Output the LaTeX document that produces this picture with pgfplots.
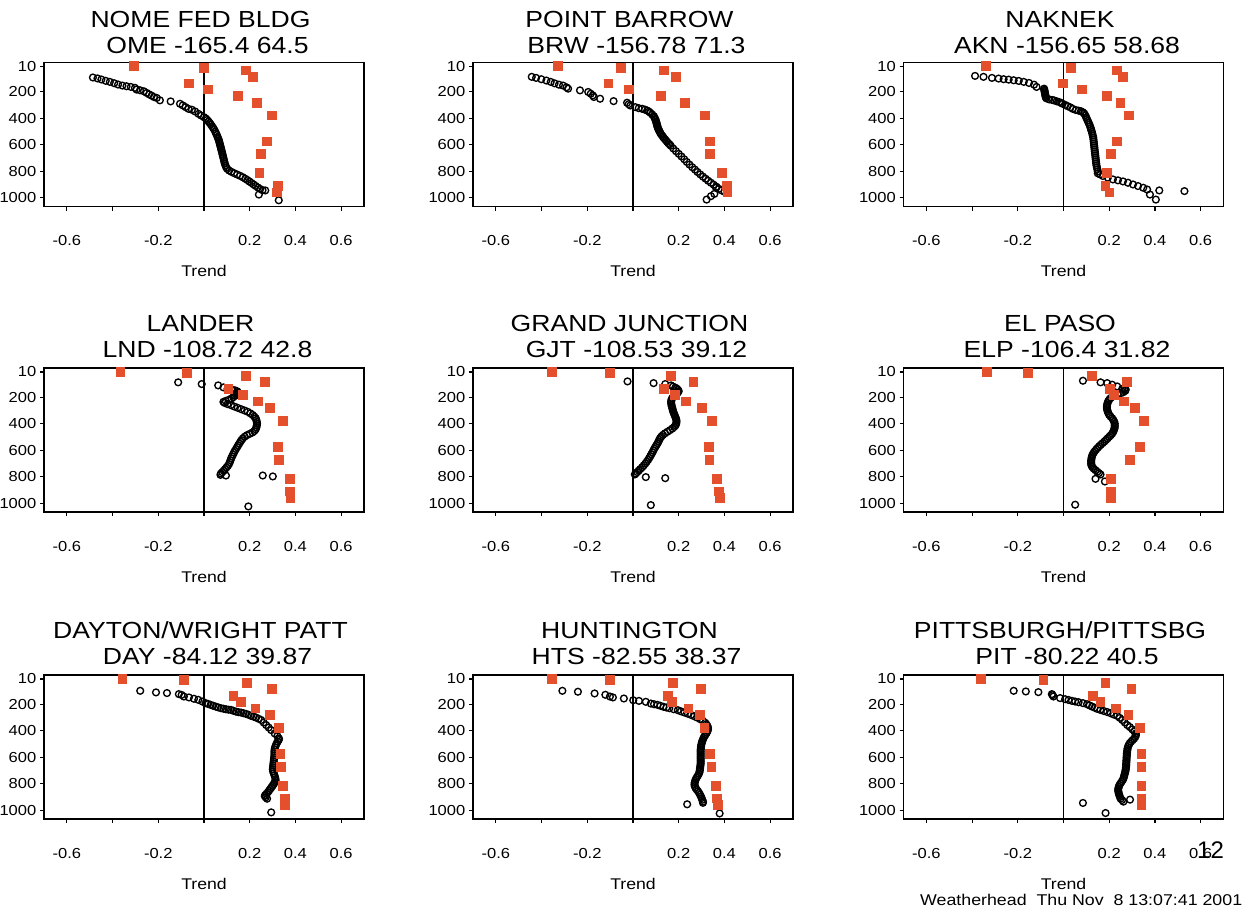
\documentclass[border=0pt]{standalone}
\usepackage{fontspec}
\setmainfont{Liberation Sans}[FakeStretch=1.14]
\newfontfamily\plainsans{Liberation Sans}
\usepackage{pgfplots}
\usepackage{pgfplotstable}
\pgfplotsset{compat=1.18}
\definecolor{sq}{HTML}{E4502C}

\newcommand\ttlfont{\fontsize{23.3}{26}\selectfont}
\newcommand\tckfont{\fontsize{14.5}{16}\selectfont}

\pgfplotsset{
  stn/.style={
    anchor=north west, scale only axis, width=320pt, height=144pt,
    xmin=-0.7, xmax=0.7, ymin=-20, ymax=1065, y dir=reverse,
    xtick={-0.6,-0.4,-0.2,0,0.2,0.4,0.6},
    xticklabels={-0.6,,-0.2,,0.2,0.4,0.6},
    ytick={10,200,400,600,800,1000},
    yticklabels={10,200,400,600,800,1000},
    tick pos=left, tick align=outside, major tick length=4pt,
    axis line style={line width=1.4pt},
    tick style={black, line width=1.1pt},
    xticklabel style={font=\tckfont, anchor=base, yshift=-35pt},
    yticklabel style={font=\tckfont, inner xsep=0pt, xshift=-3.5pt},
    xlabel={Trend},
    xlabel style={font=\fontsize{15.5}{17}\selectfont, at={(axis description cs:0.5,0)}, anchor=base, yshift=-70pt},
  },
  cir/.style={only marks, mark=o, mark size=3.4pt, black, mark options={line width=1.35pt}},
  sqr/.style={only marks, mark=square*, mark size=4.4pt, sq, mark options={draw=sq, fill=sq, line width=0pt}},
  zero/.style={black, line width=1.4pt},
}

% title lines: axis name, line 1, line 2, offset of line 2 above the box
\newcommand\ttl[4]{%
  \node[anchor=base, font=\ttlfont, inner sep=0pt] at ([xshift=-3.5pt,yshift=#4+26pt]#1.north) {#2};
  \node[anchor=base, font=\ttlfont, inner sep=0pt] at ([xshift=3.5pt,yshift=#4]#1.north) {#3};}

% orange squares, same levels in every station
\pgfplotstableread{
p    s1     s2     s3     s4     s5     s6     s7     s8     s9
8   -0.305 -0.328 -0.338 -0.365 -0.356 -0.335 -0.357 -0.356 -0.360
20   0.000 -0.051  0.032 -0.074 -0.101 -0.154 -0.087 -0.101 -0.088
40   0.185  0.135  0.234  0.184  0.166  0.125  0.188  0.176  0.184
88   0.216  0.187  0.260  0.268  0.265  0.276  0.299  0.296  0.297
138 -0.066 -0.107 -0.004  0.107  0.137  0.203  0.129  0.154  0.129
184  0.018 -0.019  0.081  0.172  0.185  0.221  0.162  0.171  0.162
233  0.150  0.121  0.190  0.235  0.232  0.266  0.225  0.243  0.228
283  0.231  0.226  0.249  0.290  0.301  0.313  0.290  0.294  0.284
380  0.296  0.316  0.285  0.346  0.346  0.353  0.328  0.313  0.334
575  0.275  0.337  0.235  0.324  0.332  0.335  0.335  0.338  0.341
671  0.250  0.337  0.209  0.327  0.335  0.291  0.338  0.343  0.341
814  0.243  0.390  0.191  0.375  0.368  0.206  0.346  0.362  0.341
910  0.325  0.410  0.184  0.375  0.376  0.206  0.354  0.369  0.341
960  0.318  0.413  0.201  0.378  0.379  0.206  0.356  0.372  0.341
}\sqtab

\begin{document}
\begin{tikzpicture}
\path[use as bounding box] (0pt,0pt) rectangle (1255pt,-909pt);

% ---------- row 1
\begin{axis}[stn, name=p1, at={(44pt,-62.5pt)}]
\addplot[zero] coordinates {(0,-20) (0,1065)};
\addplot[cir] coordinates {
(-0.486,93) (-0.466,100) (-0.449,108) (-0.430,118) (-0.412,126) (-0.393,136) (-0.376,146) (-0.357,154) (-0.339,159) (-0.320,164) (-0.302,171) (-0.295,184) (-0.280,189) (-0.263,197) (-0.251,209) (-0.240,220) (-0.229,230) (-0.219,240) (-0.207,247) (-0.193,265) (-0.146,273) (-0.105,291) (-0.093,303) (-0.081,316) (-0.068,329) (-0.053,336) (-0.039,349) (-0.024,367) (-0.012,380) (0.000,392) (0.008,402) (0.014,412) (0.020,425) (0.025,436) (0.030,447) (0.035,460) (0.040,472) (0.044,484) (0.049,500) (0.052,512) (0.056,525) (0.059,540) (0.062,552) (0.065,565) (0.067,578) (0.069,592) (0.071,605) (0.073,618) (0.075,632) (0.077,645) (0.079,658) (0.081,672) (0.083,686) (0.085,700) (0.087,714) (0.089,728) (0.091,742) (0.094,756) (0.097,770) (0.102,782) (0.110,794) (0.120,804) (0.132,814) (0.145,824) (0.158,834) (0.170,845) (0.181,856) (0.190,866) (0.199,877) (0.208,888) (0.217,899) (0.226,910) (0.236,922) (0.246,933) (0.256,942) (0.268,944) (0.240,975) (0.327,1018)};
\addplot[sqr] table[x=s1,y=p] {\sqtab};
\end{axis}
\ttl{p1}{NOME FED BLDG}{OME -165.4 64.5}{8.7pt}

\begin{axis}[stn, name=p2, at={(473pt,-62.5pt)}]
\addplot[zero] coordinates {(0,-20) (0,1065)};
\addplot[cir] coordinates {
(-0.443,88) (-0.424,96) (-0.401,106) (-0.379,116) (-0.360,126) (-0.343,137) (-0.324,147) (-0.306,154) (-0.291,167) (-0.284,177) (-0.232,190) (-0.196,202) (-0.185,215) (-0.176,228) (-0.171,240) (-0.144,253) (-0.085,271) (-0.026,283) (-0.019,294) (-0.012,304) (0.010,316) (0.025,324) (0.040,329) (0.052,335) (0.062,342) (0.070,350) (0.076,359) (0.084,372) (0.091,385) (0.094,395) (0.097,405) (0.099,415) (0.101,425) (0.103,435) (0.104,445) (0.106,455) (0.107,466) (0.110,476) (0.112,486) (0.115,496) (0.118,506) (0.121,516) (0.125,526) (0.130,537) (0.134,547) (0.139,557) (0.144,567) (0.149,577) (0.154,587) (0.160,597) (0.165,607) (0.176,628) (0.188,648) (0.200,668) (0.212,688) (0.224,709) (0.235,729) (0.247,749) (0.259,769) (0.271,787) (0.282,805) (0.294,823) (0.306,840) (0.318,856) (0.329,871) (0.341,886) (0.353,901) (0.365,916) (0.376,932) (0.388,944) (0.400,954) (0.363,924) (0.356,970) (0.341,987) (0.322,1013)};
\addplot[sqr] table[x=s2,y=p] {\sqtab};
\end{axis}
\ttl{p2}{POINT BARROW}{BRW -156.78 71.3}{8.7pt}

\begin{axis}[stn, name=p3, at={(903.5pt,-62.5pt)}]
\addplot[zero] coordinates {(0,-20) (0,1065)};
\addplot[cir] coordinates {
(-0.387,81) (-0.350,88) (-0.313,96) (-0.284,101) (-0.262,106) (-0.240,109) (-0.218,114) (-0.196,119) (-0.174,126) (-0.151,134) (-0.129,147) (-0.118,164) (-0.085,177) (-0.084,186) (-0.083,195) (-0.082,204) (-0.081,213) (-0.080,222) (-0.079,231) (-0.078,240) (-0.076,249) (-0.063,258) (-0.050,262) (-0.041,266) (-0.030,272) (-0.019,278) (-0.010,285) (-0.004,291) (0.008,300) (0.018,309) (0.030,318) (0.040,329) (0.054,338) (0.066,343) (0.076,347) (0.085,355) (0.091,365) (0.095,378) (0.099,392) (0.102,405) (0.106,418) (0.109,432) (0.113,446) (0.116,460) (0.119,474) (0.121,488) (0.124,502) (0.126,516) (0.128,530) (0.130,545) (0.131,560) (0.132,575) (0.133,590) (0.134,605) (0.135,620) (0.136,635) (0.137,650) (0.138,665) (0.139,680) (0.140,695) (0.141,710) (0.142,725) (0.143,740) (0.144,755) (0.146,770) (0.148,785) (0.150,800) (0.150,815) (0.160,823) (0.172,835) (0.194,848) (0.216,861) (0.238,868) (0.260,876) (0.282,886) (0.304,899) (0.326,911) (0.349,924) (0.366,937) (0.378,975) (0.404,1013) (0.419,944) (0.529,949)};
\addplot[sqr] table[x=s3,y=p] {\sqtab};
\end{axis}
\ttl{p3}{NAKNEK}{AKN -156.65 58.68}{8.7pt}

% ---------- row 2
\begin{axis}[stn, name=p4, at={(44pt,-368pt)}]
\addplot[zero] coordinates {(0,-20) (0,1065)};
\addplot[cir] coordinates {
(-0.113,88) (-0.010,101) (0.062,111) (0.085,126) (0.103,137) (0.120,142) (0.135,148) (0.145,155) (0.148,163) (0.145,172) (0.140,180) (0.135,190) (0.128,200) (0.120,210) (0.108,220) (0.095,228) (0.085,235) (0.090,243) (0.103,252) (0.118,260) (0.132,270) (0.147,280) (0.162,290) (0.177,300) (0.191,310) (0.203,322) (0.213,334) (0.220,346) (0.226,358) (0.229,372) (0.231,386) (0.232,400) (0.231,414) (0.229,428) (0.226,442) (0.220,455) (0.212,466) (0.200,476) (0.188,486) (0.178,497) (0.170,510) (0.164,523) (0.159,536) (0.154,550) (0.149,563) (0.145,576) (0.140,590) (0.135,604) (0.131,618) (0.127,632) (0.123,646) (0.119,660) (0.116,675) (0.113,690) (0.109,705) (0.104,718) (0.098,730) (0.092,742) (0.086,754) (0.080,765) (0.074,775) (0.072,785) (0.096,790) (0.257,790) (0.301,797) (0.194,1023)};
\addplot[sqr] table[x=s4,y=p] {\sqtab};
\end{axis}
\ttl{p4}{LANDER}{LND -108.72 42.8}{10.5pt}

\begin{axis}[stn, name=p5, at={(473pt,-368pt)}]
\addplot[zero] coordinates {(0,-20) (0,1065)};
\addplot[cir] coordinates {
(-0.024,81) (0.090,94) (0.141,101) (0.166,111) (0.175,120) (0.185,128) (0.192,136) (0.197,145) (0.200,155) (0.196,165) (0.190,175) (0.183,185) (0.176,196) (0.171,208) (0.168,220) (0.167,232) (0.167,245) (0.168,258) (0.170,270) (0.172,283) (0.174,296) (0.176,309) (0.179,322) (0.182,335) (0.185,348) (0.188,361) (0.190,374) (0.190,387) (0.189,400) (0.186,412) (0.180,424) (0.172,436) (0.162,448) (0.151,460) (0.140,472) (0.131,484) (0.124,496) (0.119,508) (0.115,520) (0.112,533) (0.108,546) (0.103,560) (0.098,574) (0.093,588) (0.089,602) (0.085,616) (0.080,630) (0.076,644) (0.071,658) (0.066,672) (0.060,686) (0.054,700) (0.047,714) (0.040,728) (0.032,741) (0.025,753) (0.019,764) (0.012,774) (0.008,782) (0.056,802) (0.141,810) (0.078,1013)};
\addplot[sqr] table[x=s5,y=p] {\sqtab};
\end{axis}
\ttl{p5}{GRAND JUNCTION}{GJT -108.53 39.12}{10.5pt}

\begin{axis}[stn, name=p6, at={(903.5pt,-368pt)}]
\addplot[zero] coordinates {(0,-20) (0,1065)};
\addplot[cir] coordinates {
(0.085,76) (0.162,88) (0.191,94) (0.213,106) (0.235,119) (0.257,137) (0.268,132) (0.272,142) (0.270,152) (0.262,162) (0.250,170) (0.238,178) (0.226,186) (0.215,195) (0.206,206) (0.200,218) (0.196,230) (0.193,242) (0.191,255) (0.190,268) (0.190,281) (0.191,294) (0.193,307) (0.196,320) (0.200,333) (0.206,346) (0.213,359) (0.218,372) (0.222,385) (0.224,398) (0.224,411) (0.224,424) (0.223,437) (0.220,450) (0.217,462) (0.213,474) (0.207,486) (0.200,498) (0.193,510) (0.186,522) (0.179,534) (0.171,546) (0.163,558) (0.156,570) (0.149,582) (0.143,594) (0.137,606) (0.132,618) (0.128,630) (0.125,642) (0.123,654) (0.122,666) (0.121,678) (0.121,690) (0.121,702) (0.122,714) (0.126,726) (0.132,738) (0.140,750) (0.148,762) (0.155,772) (0.162,782) (0.140,815) (0.181,835) (0.051,1010)};
\addplot[sqr] table[x=s6,y=p] {\sqtab};
\end{axis}
\ttl{p6}{EL PASO}{ELP -106.4 31.82}{10.5pt}

% ---------- row 3
\begin{axis}[stn, name=p7, at={(44pt,-675pt)}]
\addplot[zero] coordinates {(0,-20) (0,1065)};
\addplot[cir] coordinates {
(-0.279,99) (-0.210,111) (-0.162,116) (-0.110,124) (-0.098,130) (-0.088,142) (-0.066,149) (-0.044,159) (-0.025,167) (-0.007,180) (0.007,192) (0.018,198) (0.029,205) (0.040,212) (0.051,218) (0.062,224) (0.074,230) (0.085,234) (0.096,238) (0.107,241) (0.118,243) (0.129,250) (0.140,256) (0.151,260) (0.162,263) (0.173,268) (0.184,273) (0.195,280) (0.206,288) (0.217,294) (0.228,301) (0.239,310) (0.250,319) (0.261,338) (0.272,357) (0.283,376) (0.294,395) (0.309,420) (0.321,440) (0.328,458) (0.327,470) (0.322,482) (0.318,496) (0.314,510) (0.311,525) (0.309,540) (0.308,555) (0.308,570) (0.308,585) (0.307,600) (0.306,615) (0.305,630) (0.304,645) (0.303,660) (0.302,675) (0.301,690) (0.302,705) (0.305,720) (0.308,735) (0.311,750) (0.313,765) (0.313,778) (0.309,790) (0.305,802) (0.300,814) (0.295,826) (0.290,838) (0.285,850) (0.280,862) (0.274,874) (0.268,884) (0.266,892) (0.270,902) (0.276,912) (0.294,1015)};
\addplot[sqr] table[x=s7,y=p] {\sqtab};
\end{axis}
\ttl{p7}{DAYTON/WRIGHT PATT}{DAY -84.12 39.87}{10.5pt}

\begin{axis}[stn, name=p8, at={(473pt,-675pt)}]
\addplot[zero] coordinates {(0,-20) (0,1065)};
\addplot[cir] coordinates {
(-0.309,99) (-0.241,106) (-0.168,119) (-0.121,129) (-0.101,142) (-0.088,149) (-0.040,157) (0.001,170) (0.026,175) (0.056,182) (0.078,195) (0.092,200) (0.107,205) (0.120,212) (0.134,220) (0.146,225) (0.159,230) (0.178,238) (0.196,245) (0.210,254) (0.225,263) (0.240,272) (0.254,281) (0.268,291) (0.281,301) (0.294,313) (0.306,326) (0.316,340) (0.321,352) (0.326,365) (0.328,378) (0.328,390) (0.326,403) (0.322,416) (0.318,428) (0.313,440) (0.309,453) (0.306,466) (0.303,478) (0.301,491) (0.299,504) (0.298,517) (0.297,530) (0.296,543) (0.296,556) (0.296,569) (0.296,582) (0.296,595) (0.296,608) (0.296,621) (0.296,634) (0.296,647) (0.295,660) (0.294,673) (0.293,686) (0.292,699) (0.291,712) (0.288,725) (0.284,738) (0.279,751) (0.275,764) (0.272,777) (0.270,790) (0.269,803) (0.270,816) (0.273,829) (0.278,842) (0.284,855) (0.289,868) (0.293,881) (0.297,894) (0.300,907) (0.303,920) (0.306,933) (0.306,943) (0.237,954) (0.379,1023)};
\addplot[sqr] table[x=s8,y=p] {\sqtab};
\end{axis}
\ttl{p8}{HUNTINGTON}{HTS -82.55 38.37}{10.5pt}

\begin{axis}[stn, name=p9, at={(903.5pt,-675pt)}]
\addplot[zero] coordinates {(0,-20) (0,1065)};
\addplot[cir] coordinates {
(-0.218,99) (-0.165,104) (-0.110,109) (-0.051,124) (-0.048,132) (-0.044,142) (-0.015,154) (0.007,162) (0.022,168) (0.037,175) (0.051,180) (0.066,185) (0.085,192) (0.103,200) (0.114,209) (0.125,218) (0.136,226) (0.147,235) (0.161,243) (0.176,251) (0.191,259) (0.206,268) (0.220,278) (0.235,288) (0.246,303) (0.257,319) (0.268,338) (0.279,357) (0.290,372) (0.301,390) (0.310,405) (0.316,420) (0.317,433) (0.314,446) (0.309,459) (0.302,471) (0.295,483) (0.289,496) (0.285,509) (0.282,522) (0.280,535) (0.279,548) (0.278,561) (0.277,574) (0.277,587) (0.276,600) (0.276,613) (0.275,626) (0.275,639) (0.274,652) (0.274,665) (0.273,678) (0.272,691) (0.271,704) (0.269,717) (0.267,730) (0.265,743) (0.263,756) (0.260,769) (0.255,782) (0.250,795) (0.245,808) (0.242,821) (0.240,834) (0.239,847) (0.240,860) (0.242,873) (0.244,886) (0.247,899) (0.250,912) (0.256,922) (0.262,934) (0.291,919) (0.085,944) (0.184,1020)};
\addplot[sqr] table[x=s9,y=p] {\sqtab};
\end{axis}
\ttl{p9}{PITTSBURGH/PITTSBG}{PIT -80.22 40.5}{10.5pt}

% page number and footer
\node[anchor=base west, inner sep=0pt, font=\plainsans\fontsize{24}{28}\selectfont] at (1197pt,-858pt) {12};
\node[anchor=base west, inner sep=0pt, font=\fontsize{15.6}{17}\selectfont] at (920pt,-905pt) {Weatherhead\ \ Thu Nov\ \ 8 13:07:41 2001};
\end{tikzpicture}
\end{document}
